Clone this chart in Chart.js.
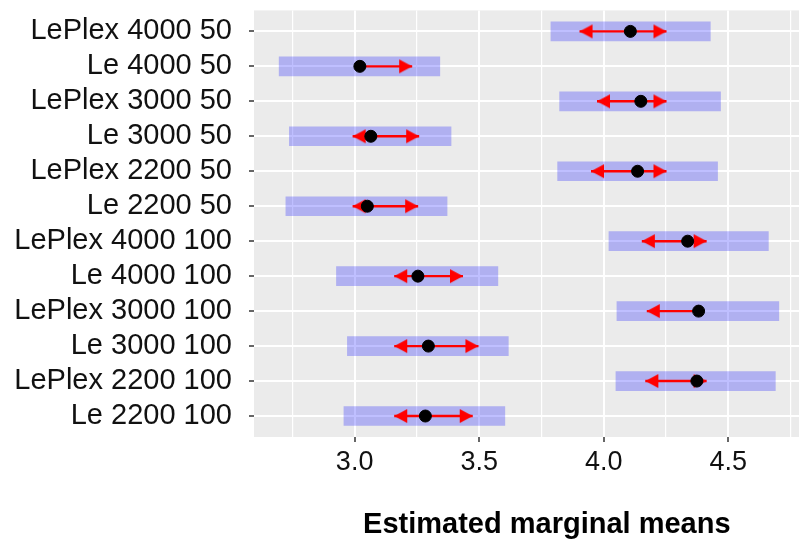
<!DOCTYPE html>
<html>
<head>
<meta charset="utf-8">
<script src="https://cdn.jsdelivr.net/npm/chart.js@4"></script>
<style>
  html, body { margin: 0; padding: 0; background: #fff; overflow: hidden; }
  #wrap { width: 850px; height: 543px; }
</style>
</head>
<body>
<div id="wrap"><canvas id="emmChart" width="850" height="543"></canvas></div>
<script>
// rows, top to bottom
var groups = ['LePlex 4000 50', 'Le 4000 50', 'LePlex 3000 50', 'Le 3000 50', 'LePlex 2200 50', 'Le 2200 50',
  'LePlex 4000 100', 'Le 4000 100', 'LePlex 3000 100', 'Le 3000 100', 'LePlex 2200 100', 'Le 2200 100'];
var means = [4.107, 3.021, 4.149, 3.065, 4.136, 3.051, 4.337, 3.254, 4.381, 3.296, 4.374, 3.284];
var lowerCL = [3.788, 2.697, 3.823, 2.738, 3.815, 2.724, 4.021, 2.927, 4.053, 2.971, 4.049, 2.957];
var upperCL = [4.428, 3.342, 4.469, 3.387, 4.457, 3.371, 4.661, 3.575, 4.703, 3.617, 4.689, 3.603];
// comparison arrow ends (null = no arrow on that side)
var arrowLeft = [3.903, null, 3.973, 2.992, 3.949, 2.992, 4.153, 3.159, 4.173, 3.159, 4.167, 3.159];
var arrowRight = [4.252, 3.231, 4.252, 3.259, 4.252, 3.255, 4.413, 3.435, null, 3.497, 4.413, 3.474];
var xTicks = [2.75, 3.0, 3.25, 3.5, 3.75, 4.0, 4.25, 4.5, 4.75];
var xLabels = ['', '3.0', '', '3.5', '', '4.0', '', '4.5', ''];

Chart.defaults.font.family = '"Liberation Sans", Arial, sans-serif';

// arrow heads, tip sits at the centre of the little canvas
function makeHead(dir) {
  var c = document.createElement('canvas');
  c.width = 28;
  c.height = 16;
  var g = c.getContext('2d');
  g.fillStyle = '#ff0000';
  g.beginPath();
  if (dir < 0) {
    g.moveTo(14, 8); g.lineTo(27, 1); g.lineTo(27, 15);
  } else {
    g.moveTo(14, 8); g.lineTo(1, 1); g.lineTo(1, 15);
  }
  g.closePath();
  g.fill();
  return c;
}
var headL = makeHead(-1);
var headR = makeHead(1);

var barData = groups.map(function (g, i) { return { x: [lowerCL[i], upperCL[i]], y: i }; });
var meanData = groups.map(function (g, i) { return { x: means[i], y: i }; });
var arrowData = [];
groups.forEach(function (g, i) {
  if (arrowLeft[i] !== null) arrowData.push({ x: arrowLeft[i], y: i, head: 'L' });
  arrowData.push({ x: means[i], y: i });
  if (arrowRight[i] !== null) arrowData.push({ x: arrowRight[i], y: i, head: 'R' });
  arrowData.push({ x: null, y: i });
});

// grey panel like ggplot
var panelBg = {
  id: 'panelBg',
  beforeDraw: function (chart) {
    var a = chart.chartArea, c = chart.ctx;
    c.save();
    c.fillStyle = '#ebebeb';
    c.fillRect(a.left, a.top, a.right - a.left, a.bottom - a.top);
    c.restore();
  }
};

var ctx = document.getElementById('emmChart');
var emmChart = new Chart(ctx, {
  type: 'scatter',
  data: {
    datasets: [{
      type: 'bar',
      indexAxis: 'y',
      data: barData,
      backgroundColor: 'rgba(0, 0, 255, 0.25)',
      borderWidth: 0,
      barThickness: 19,
      order: 3
    }, {
      type: 'scatter',
      showLine: true,
      data: arrowData,
      borderColor: '#ff0000',
      borderWidth: 2.4,
      pointStyle: function (c) {
        if (!c.raw || !c.raw.head) return false;
        return c.raw.head === 'L' ? headL : headR;
      },
      pointRadius: function (c) { return c.raw && c.raw.head ? 8 : 0; },
      order: 2
    }, {
      type: 'scatter',
      data: meanData,
      pointRadius: 6,
      backgroundColor: '#000',
      borderColor: '#000',
      borderWidth: 1,
      order: 1
    }]
  },
  options: {
    responsive: false,
    animation: false,
    events: [],
    layout: { padding: { top: 8, left: 0, right: 2, bottom: 0 } },
    plugins: {
      legend: { display: false },
      tooltip: { enabled: false }
    },
    scales: {
      x: {
        type: 'linear',
        position: 'bottom',
        offset: false,
        min: 2.596,
        max: 4.947,
        afterBuildTicks: function (s) { s.ticks = xTicks.map(function (v) { return { value: v }; }); },
        afterFit: function (s) { s.height = 106; s.paddingLeft = 0; s.paddingRight = 0; },
        border: { display: false },
        grid: {
          offset: false,
          color: '#ffffff',
          lineWidth: function (c) { return xLabels[c.index] ? 2 : 1.2; },
          tickLength: 5,
          tickWidth: 1.5,
          tickColor: function (c) { return xLabels[c.index] ? '#333333' : 'rgba(0,0,0,0)'; }
        },
        ticks: {
          autoSkip: false,
          maxRotation: 0,
          padding: 4,
          color: '#111',
          font: { size: 27 },
          callback: function (v, i) { return xLabels[i]; }
        },
        title: {
          display: true,
          text: 'Estimated marginal means',
          color: '#000',
          font: { size: 29, weight: 'bold' },
          padding: { top: 0, bottom: 1 }
        }
      },
      y: {
        type: 'linear',
        reverse: true,
        offset: false,
        min: -0.6,
        max: 11.6,
        afterBuildTicks: function (s) { s.ticks = groups.map(function (g, i) { return { value: i }; }); },
        afterFit: function (s) { s.width = 254; s.paddingTop = 0; s.paddingBottom = 0; },
        border: { display: false },
        grid: {
          offset: false,
          color: '#ffffff',
          lineWidth: 2,
          tickLength: 5,
          tickWidth: 1.5,
          tickColor: '#333333'
        },
        ticks: {
          autoSkip: false,
          padding: 17,
          color: '#111',
          font: { size: 29 },
          callback: function (v, i) { return groups[i]; }
        }
      }
    }
  },
  plugins: [panelBg]
});
</script>
</body>
</html>
